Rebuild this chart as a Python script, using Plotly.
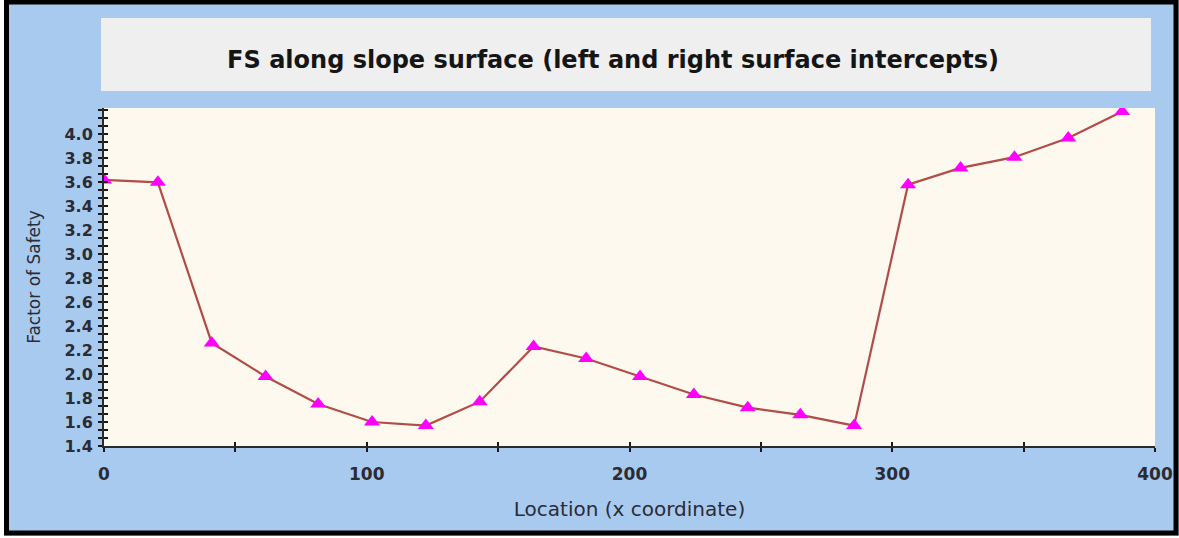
import plotly.graph_objects as go

# ---- data ----
location = [0, 20.5, 41, 61.5, 81.5, 102, 122.5, 143, 163.5, 183.5,
            204, 224.5, 245, 265, 285.5, 306, 326, 346.5, 367, 387.5]
factor_of_safety = [3.62, 3.60, 2.26, 1.98, 1.75, 1.60, 1.57, 1.77, 2.23, 2.13,
                    1.98, 1.83, 1.72, 1.66, 1.57, 3.58, 3.72, 3.81, 3.97, 4.19]
x_tick_values = [0, 100, 200, 300, 400]
y_tick_values = [1.4, 1.6, 1.8, 2.0, 2.2, 2.4, 2.6, 2.8, 3.0, 3.2, 3.4, 3.6, 3.8, 4.0]
y_tick_labels = ["1.4", "1.6", "1.8", "2.0", "2.2", "2.4", "2.6", "2.8", "3.0",
                 "3.2", "3.4", "3.6", "3.8", "4.0"]
title_text = "FS along slope surface (left and right surface intercepts)"
x_title = "Location (x coordinate)"
y_title = "Factor of Safety"

# ---- layout geometry ----
W, H = 1179, 538
L, R, T, B = 104, 24, 108, 92
PW, PH = W - L - R, H - T - B


def px_x(px):
    return (px - L) / PW


def px_y(py):
    return (H - B - py) / PH


BLUE = "#A8CAEE"
PLOT_BG = "#FEF9EE"
BOX = "#EFEFEF"
FONT = "DejaVu Sans, Verdana, sans-serif"
TXT = "#2B2B35"

fig = go.Figure()
fig.add_trace(go.Scatter(
    x=location, y=factor_of_safety, mode="lines+markers",
    line=dict(color="#B24C47", width=2.2),
    marker=dict(symbol="triangle-up", size=14, color="#FF00FF", line=dict(width=0)),
    showlegend=False,
))
# invisible trace on overlaying axes to draw inner half of the crossing ticks
fig.add_trace(go.Scatter(x=location, y=factor_of_safety, xaxis="x2", yaxis="y2",
                         mode="lines", line=dict(width=0), hoverinfo="skip",
                         showlegend=False))

xr = [0, 400]
yr = [1.4, 4.22]
xtickfont = dict(family=FONT, size=17, color=TXT, weight="bold")
ytickfont = dict(family=FONT, size=16, color=TXT, weight="bold")
TC = "#1A1A1A"

fig.update_layout(
    width=W, height=H,
    margin=dict(l=L, r=R, t=T, b=B, autoexpand=False),
    paper_bgcolor=BLUE, plot_bgcolor=PLOT_BG,
    font=dict(family=FONT),
    xaxis=dict(range=xr, tickmode="array", tickvals=x_tick_values,
               ticks="outside", ticklen=4, tickwidth=2, tickcolor=TC,
               showline=True, linecolor="#2A2A2A", linewidth=2,
               showgrid=False, zeroline=False, tickfont=xtickfont,
               ticklabelstandoff=8, automargin=False,
               minor=dict(dtick=50, tick0=0, ticks="outside", ticklen=4,
                          tickwidth=2, tickcolor=TC, showgrid=False),
               title=dict(text=x_title, standoff=19,
                          font=dict(family=FONT, size=20, color=TXT))),
    yaxis=dict(range=yr, tickmode="array", tickvals=y_tick_values, ticktext=y_tick_labels,
               ticks="outside", ticklen=4, tickwidth=2, tickcolor=TC,
               showline=True, linecolor="#2A2A2A", linewidth=2,
               showgrid=False, zeroline=False, tickfont=ytickfont,
               ticklabelstandoff=2, automargin=False,
               minor=dict(dtick=0.2 / 3, tick0=1.4, ticks="outside", ticklen=4,
                          tickwidth=2, tickcolor=TC, showgrid=False),
               title=dict(text=y_title, standoff=20,
                          font=dict(family=FONT, size=17, color=TXT))),
    xaxis2=dict(range=xr, overlaying="x", side="bottom", anchor="y",
                tickmode="array", tickvals=x_tick_values, showticklabels=False,
                ticks="inside", ticklen=4, tickwidth=2, tickcolor=TC,
                showgrid=False, zeroline=False, showline=False, automargin=False,
                minor=dict(dtick=50, tick0=0, ticks="inside", ticklen=4,
                           tickwidth=2, tickcolor=TC, showgrid=False)),
    yaxis2=dict(range=yr, overlaying="y", side="left", anchor="x",
                tickmode="array", tickvals=y_tick_values, showticklabels=False,
                ticks="inside", ticklen=4, tickwidth=2, tickcolor=TC,
                showgrid=False, zeroline=False, showline=False, automargin=False,
                minor=dict(dtick=0.2 / 3, tick0=1.4, ticks="inside", ticklen=4,
                           tickwidth=2, tickcolor=TC, showgrid=False)),
    title=dict(text="<b>" + title_text + "</b>", x=px_x(613), xref="paper",
               y=1 - 60 / H, yref="container", xanchor="center", yanchor="middle",
               font=dict(family=FONT, size=24, color="#151515")),
)

shapes = [
    # title box
    dict(type="rect", xref="paper", yref="paper",
         x0=px_x(101), x1=px_x(1151), y0=px_y(91), y1=px_y(18),
         fillcolor=BOX, line=dict(width=0), layer="above"),
    # white margins outside the outer frame
    dict(type="rect", xref="paper", yref="paper",
         x0=px_x(-5), x1=px_x(4), y0=px_y(H + 5), y1=px_y(-5),
         fillcolor="white", line=dict(width=0), layer="above"),
    dict(type="rect", xref="paper", yref="paper",
         x0=px_x(-5), x1=px_x(W + 5), y0=px_y(H + 5), y1=px_y(536),
         fillcolor="white", line=dict(width=0), layer="above"),
    # outer black frame
    dict(type="rect", xref="paper", yref="paper",
         x0=px_x(6.5), x1=px_x(1176), y0=px_y(533), y1=px_y(2),
         fillcolor="rgba(0,0,0,0)", line=dict(color="black", width=5), layer="above"),
]
fig.update_layout(shapes=shapes)

fig.write_html(
    "out.html",
    config={"displayModeBar": False},
    post_script="document.body.style.margin='0';document.body.style.overflow='hidden';",
)
